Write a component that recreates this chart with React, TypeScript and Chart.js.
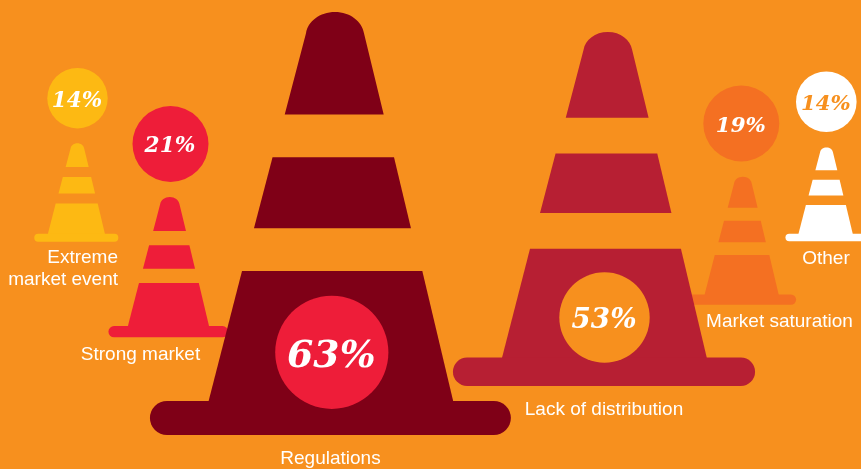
import React, { useEffect, useRef } from "react";
import { Chart, registerables } from "chart.js";

Chart.register(...registerables);

// ---- data ----
const categories = ["Regulations", "Lack of distribution", "Strong market", "Market saturation", "Extreme market event", "Other"];
const values = [63, 53, 21, 19, 14, 14];

// ---- layout (pixels of the picture, not data) ----
const WIDTH = 861;
const HEIGHT = 469;
const PX_PER_POINT = 6.7;
const coneCentreX = [330.4, 604, 168.3, 741.5, 76.3, 825.5];
const coneBottomY = [435, 386, 337.3, 304.7, 241.7, 241.3];
const coneHeightScale = [1.002, 0.997, 0.997, 1.005, 1.05, 1.0];
const circleX = [331.8, 604.5, 170.5, 741.3, 77.5, 826.3];
const circleY = [352.3, 317.5, 144, 123.5, 98.2, 101.8];
const circleR = [56.6, 45.2, 38, 38, 30.2, 30.3];
const pctFontPx = [37.8, 27.8, 21.7, 21.3, 21.5, 21.2];
const pctColors = ["#FFFFFF", "#FFFFFF", "#FFFFFF", "#FFFFFF", "#FFFFFF", "#F7901E"];
const labelLines = [["Regulations"], ["Lack of distribution"], ["Strong market"], ["Market saturation"], ["Extreme", "market event"], ["Other"]];
const labelX = [330.5, 604, 140.5, 779.5, 118, 826];
const labelY = [[464], [415], [359.5], [326.7], [262.7, 285], [264]];
const labelAlign: CanvasTextAlign[] = ["center", "center", "center", "center", "right", "center"];

// ---- colours ----
const BG = "#F7901E";
const coneColors = ["#7F0017", "#B71F33", "#EE1D39", "#F47022", "#FDB913", "#FFFFFF"];
const circleColors = ["#EE1D39", "#F7901E", "#EE1D39", "#F47022", "#FDB913", "#FFFFFF"];

function drawCone(ctx: CanvasRenderingContext2D, cx: number, top: number, bottom: number, color: string) {
  const H = bottom - top;
  const X = (u: number) => cx + u * H;
  const Y = (v: number) => bottom - v * H;
  ctx.fillStyle = color;

  ctx.beginPath();
  ctx.moveTo(X(-0.108), Y(0.7577));
  ctx.lineTo(X(-0.0577), Y(0.95));
  ctx.bezierCurveTo(X(-0.053), Y(0.978), X(-0.025), Y(1), X(0.0108), Y(1));
  ctx.bezierCurveTo(X(0.047), Y(1), X(0.074), Y(0.978), X(0.0794), Y(0.95));
  ctx.lineTo(X(0.126), Y(0.7577));
  ctx.closePath();
  ctx.fill();

  ctx.beginPath();
  ctx.moveTo(X(-0.1368), Y(0.657));
  ctx.lineTo(X(0.1504), Y(0.657));
  ctx.lineTo(X(0.1905), Y(0.489));
  ctx.lineTo(X(-0.1807), Y(0.489));
  ctx.closePath();
  ctx.fill();

  ctx.beginPath();
  ctx.moveTo(X(-0.209), Y(0.3877));
  ctx.lineTo(X(0.2173), Y(0.3877));
  ctx.lineTo(X(0.2915), Y(0.075));
  ctx.lineTo(X(-0.2893), Y(0.075));
  ctx.closePath();
  ctx.fill();

  ctx.beginPath();
  ctx.roundRect(X(-0.4267), Y(0.0804), 0.8534 * H, 0.0804 * H, 0.0402 * H);
  ctx.fill();
}

const conePlugin = {
  id: "cones",
  beforeDatasetsDraw(chart: any) {
    const ctx = chart.ctx as CanvasRenderingContext2D;
    const bars = chart.getDatasetMeta(0).data as any[];
    const order = bars.map((_, i) => i).sort((a, b) => {
      const rank = (i: number) => (i <= 1 ? 10 - i : i === 2 ? 1 : i === 3 ? 2 : 3);
      return rank(a) - rank(b);
    });
    ctx.save();
    order.forEach((i) => drawCone(ctx, bars[i].x, bars[i].y, bars[i].base, coneColors[i]));
    ctx.restore();
  },
  afterDatasetsDraw(chart: any) {
    const ctx = chart.ctx as CanvasRenderingContext2D;
    ctx.save();
    values.forEach((v, i) => {
      ctx.font = `italic bold ${pctFontPx[i]}px "DejaVu Serif"`;
      ctx.fillStyle = pctColors[i];
      ctx.textAlign = "center";
      ctx.textBaseline = "middle";
      ctx.fillText(`${v}%`, circleX[i] - 0.5, circleY[i] + pctFontPx[i] * 0.13);
    });
    ctx.font = '19px "Liberation Sans"';
    ctx.fillStyle = "#FFFFFF";
    ctx.textBaseline = "alphabetic";
    labelLines.forEach((lines, i) => {
      ctx.textAlign = labelAlign[i];
      lines.forEach((line, j) => ctx.fillText(line, labelX[i], labelY[i][j]));
    });
    ctx.restore();
  },
};

export default function App() {
  const ref = useRef<HTMLCanvasElement>(null);
  useEffect(() => {
    document.body.style.margin = "0";
    const chart = new Chart(ref.current as HTMLCanvasElement, {
      type: "bar",
      data: {
        labels: categories,
        datasets: [
          {
            type: "bar",
            label: "Share of respondents",
            data: values.map((v, i) => {
              const base = (HEIGHT - coneBottomY[i]) / PX_PER_POINT;
              return { x: coneCentreX[i], y: [base, base + v * coneHeightScale[i]] };
            }),
            backgroundColor: "rgba(0,0,0,0)",
            borderWidth: 0,
            barThickness: 1,
          },
          {
            type: "bubble",
            label: "Percent badge",
            data: values.map((v, i) => ({
              x: circleX[i],
              y: (HEIGHT - circleY[i]) / PX_PER_POINT,
              r: circleR[i],
            })),
            backgroundColor: circleColors,
            borderWidth: 0,
            hoverRadius: 0,
          },
        ],
      } as any,
      options: {
        animation: false,
        responsive: false,
        layout: { padding: 0, autoPadding: false },
        plugins: { legend: { display: false }, tooltip: { enabled: false }, title: { display: false } },
        scales: {
          x: { type: "linear", min: 0, max: WIDTH, display: false, offset: false },
          y: { type: "linear", min: 0, max: HEIGHT / PX_PER_POINT, display: false, offset: false },
        },
      } as any,
      plugins: [conePlugin],
    });
    return () => chart.destroy();
  }, []);
  return (
    <div style={{ position: "fixed", left: 0, top: 0, width: WIDTH, height: HEIGHT, background: BG, overflow: "hidden" }}>
      <canvas ref={ref} width={WIDTH} height={HEIGHT} style={{ display: "block" }} />
    </div>
  );
}
